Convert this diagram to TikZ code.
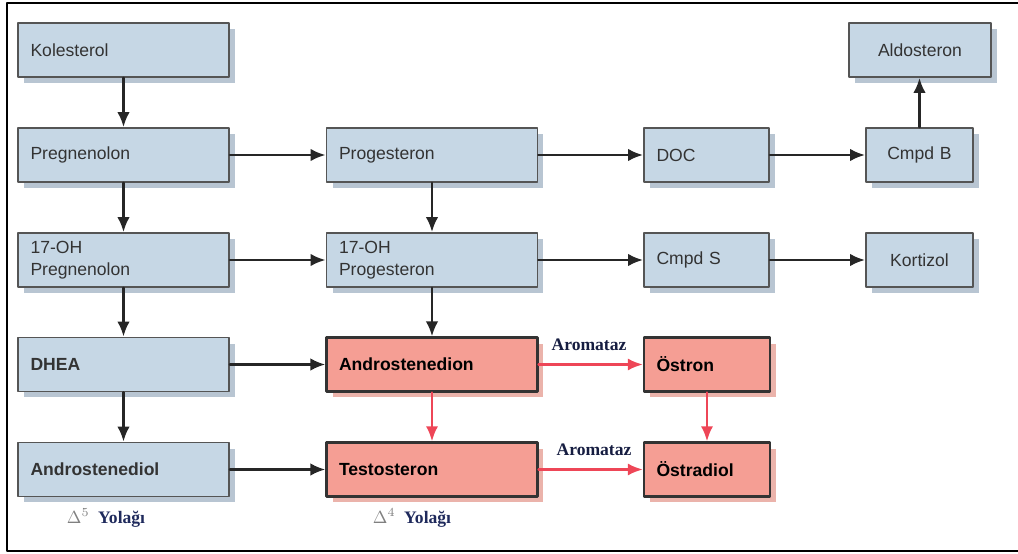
\documentclass[tikz,border=0pt]{standalone}
\usepackage{fontspec}
\setmainfont{Liberation Sans}
\newfontfamily\timesfont{Liberation Serif}
\usetikzlibrary{arrows.meta,shadows}
\definecolor{boxblue}{HTML}{C6D7E5}
\definecolor{shadowblue}{HTML}{B8C5D2}
\definecolor{boxedge}{HTML}{555555}
\definecolor{boxtext}{HTML}{333333}
\definecolor{boxred}{HTML}{F59E94}
\definecolor{shadowred}{HTML}{EBB3AB}
\definecolor{arrowred}{HTML}{EE4657}
\definecolor{pathblue}{HTML}{1F2A5C}

\begin{document}
\begin{tikzpicture}[x=0.02cm,y=-0.02cm,line cap=round,line join=round,
  bluebox/.style={draw=boxedge,line width=1pt,fill=boxblue,text=boxtext,
    font=\fontsize{10}{12.5}\selectfont,minimum height=1.08cm,inner xsep=0.25cm,
    text width=3.72cm,align=left,
    drop shadow={shadow xshift=0.12cm,shadow yshift=-0.12cm,fill=shadowblue,opacity=1}},
  smallbox/.style={bluebox,text width=2.0cm},
  rightbox/.style={bluebox,align=center},
  redbox/.style={bluebox,draw=black!80,line width=1.2pt,fill=boxred,text=black,
    font=\fontsize{10}{12.5}\selectfont\bfseries,
    drop shadow={shadow xshift=0.12cm,shadow yshift=-0.12cm,fill=shadowred,opacity=1}},
  arr/.style={line width=1.5pt,draw=black!85,-{Latex[length=0.3cm,width=0.25cm]}},
  redarr/.style={line width=1.4pt,draw=arrowred,-{Latex[length=0.3cm,width=0.24cm]}},
  enzlabel/.style={font=\timesfont\fontsize{10}{12}\selectfont\bfseries,text=pathblue!70!black,inner sep=1pt},
  pathlabel/.style={font=\timesfont\fontsize{10}{12}\selectfont,inner sep=1pt}]
  \useasboundingbox (0,0) rectangle (1018,554);
  \draw[line width=1.1pt] (1018,3) -- (7,3) -- (7,551) -- (1018,551);

  \node[bluebox] (kol) at (123.5,50) {Kolesterol};
  \node[bluebox] (preg) at (123.5,155) {Pregnenolon};
  \node[bluebox] (ohpreg) at (123.5,260) {17-OH\\Pregnenolon};
  \node[bluebox,font=\fontsize{10}{12.5}\selectfont\bfseries] (dhea) at (123.5,364.5) {DHEA};
  \node[bluebox,font=\fontsize{10}{12.5}\selectfont\bfseries] (adiol) at (123.5,469.5) {Androstenediol};

  \node[bluebox] (prog) at (432,155) {Progesteron};
  \node[bluebox] (ohprog) at (432,260) {17-OH\\Progesteron};
  \node[redbox] (adion) at (432,364.5) {Androstenedion};
  \node[redbox] (testo) at (432,469.5) {Testosteron};

  \node[smallbox] (doc) at (706.5,155) {DOC};
  \node[smallbox] (cmpds) at (706.5,260) {Cmpd S};
  \node[redbox,text width=2.02cm] (ostron) at (707,364.5) {Östron};
  \node[redbox,text width=2.02cm] (ostradiol) at (707,469.5) {Östradiol};

  \node[rightbox,text width=1.64cm] (cmpdb) at (919.5,155) {Cmpd B};
  \node[rightbox,text width=1.64cm] (kort) at (919.5,260) {Kortizol};
  \node[rightbox,text width=2.34cm] (aldo) at (920,50) {Aldosteron};

  \draw[arr] (kol) -- (preg);
  \draw[arr] (preg) -- (ohpreg);
  \draw[arr] (ohpreg) -- (dhea);
  \draw[arr] (dhea) -- (adiol);
  \draw[arr] (prog) -- (ohprog);
  \draw[arr] (ohprog) -- (adion);
  \draw[arr] (preg) -- (prog);
  \draw[arr] (prog) -- (doc);
  \draw[arr] (doc) -- (cmpdb);
  \draw[arr] (cmpdb.north) -- (cmpdb.north |- aldo.south);
  \draw[arr] (ohpreg) -- (ohprog);
  \draw[arr] (ohprog) -- (cmpds);
  \draw[arr] (cmpds) -- (kort);
  \draw[arr] (dhea) -- (adion);
  \draw[arr] (adiol) -- (testo);

  \draw[redarr] (adion) -- (ostron);
  \draw[redarr] (adion) -- (testo);
  \draw[redarr] (ostron) -- (ostradiol);
  \draw[redarr] (testo) -- (ostradiol);

  \node[enzlabel] (arom1) at (589,345) {Aromataz};
  \node[enzlabel] (arom2) at (594,450) {Aromataz};
  \node[pathlabel] (d5lbl) at (106,518) {\textcolor{gray}{$\Delta^5$}\ \ \textcolor{pathblue}{\bfseries Yolağı}};
  \node[pathlabel] (d4lbl) at (412,518) {\textcolor{gray}{$\Delta^4$}\ \ \textcolor{pathblue}{\bfseries Yolağı}};
\end{tikzpicture}
\end{document}
